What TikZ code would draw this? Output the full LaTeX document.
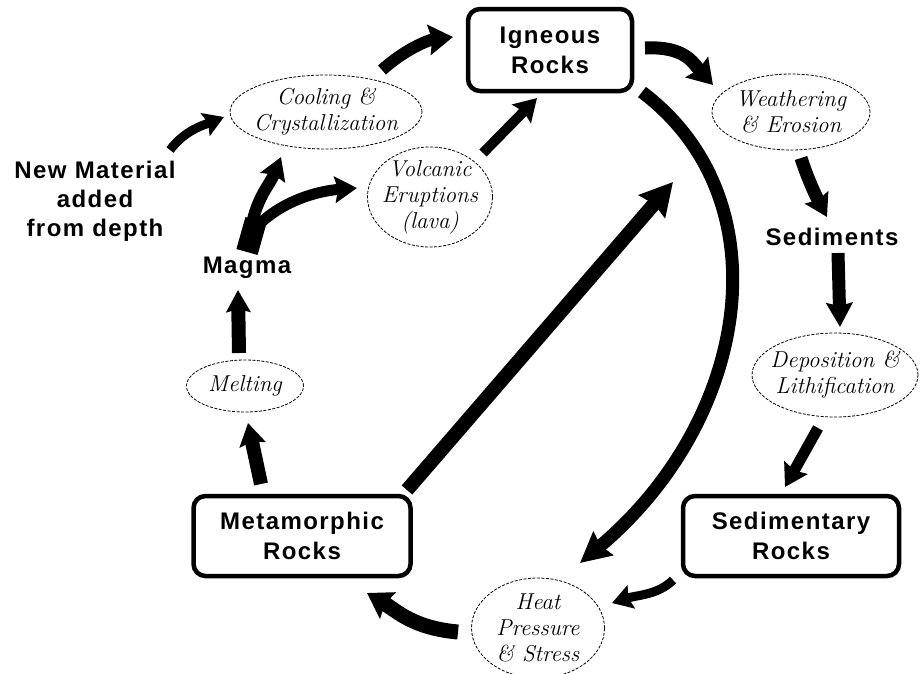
\documentclass[tikz,border=0pt]{standalone}
\usepackage{fontspec}
\newfontfamily\labfont{Liberation Sans}[LetterSpace=6]
\usetikzlibrary{arrows.meta,shapes.geometric,calc}
\begin{document}
\begin{tikzpicture}[x=1pt,y=-1pt,
  rock/.style={draw,line width=4.5pt,rounded corners=12pt,align=center,
    font=\labfont\bfseries\fontsize{24}{30}\selectfont,inner sep=0pt},
  ptext/.style={align=center,font=\itshape\fontsize{23}{26}\selectfont,inner sep=0pt},
  proc/.style={ellipse,draw,line width=0.8pt,dash pattern=on 3pt off 1.5pt,inner sep=0pt},
  lab/.style={align=center,font=\labfont\bfseries\fontsize{24}{29}\selectfont,inner sep=0pt},
  arr/.style n args={3}{draw,line width=#1pt,-{Stealth[length=#2pt,width=#3pt,inset=3pt]}}
]
\useasboundingbox (0,0) rectangle (920,673);

% rock boxes
\node[rock,minimum width=164pt,minimum height=82pt] (ign) at (550,50) {Igneous\\Rocks};
\node[rock,minimum width=217pt,minimum height=80pt] (meta) at (302,536) {Metamorphic\\Rocks};
\node[rock,minimum width=216pt,minimum height=80pt] (sedi) at (791,536) {Sedimentary\\Rocks};

% processes
\node[proc,minimum width=192pt,minimum height=74pt,label={[ptext]center:Cooling \&\\Crystallization}] (cool) at (326,112) {};
\node[proc,minimum width=125pt,minimum height=100pt,label={[ptext]center:Volcanic\\Eruptions\\(lava)}] (volc) at (430,197) {};
\node[proc,minimum width=158pt,minimum height=76pt,label={[ptext]center:Weathering\\\& Erosion}] (weath) at (791,112) {};
\node[proc,minimum width=166pt,minimum height=84pt,label={[ptext]center:Deposition \&\\Lithification}] (depo) at (835,375) {};
\node[proc,minimum width=133pt,minimum height=100pt,label={[ptext]center:Heat\\Pressure\\\& Stress}] (heat) at (538,628) {};
\node[proc,minimum width=117pt,minimum height=52pt,label={[ptext]center:Melting}] (melt) at (245,386) {};

% plain labels
\node[lab] (magma) at (247,268) {Magma};
\node[lab] (sedim) at (832,237) {Sediments};
\node[lab] (newmat) at (95,201) {New Material\\added\\from depth};

% arrows
\draw[arr={9}{20}{24}] ($(newmat)+(75,-51)$) .. controls +(15,-20) and +(-20,8) .. ($(cool)+(-102,5)$);
\draw[arr={12}{24}{30}] ($(cool)+(56,-42)$) .. controls +(22,-20) and +(-25,3) .. ($(ign)+(-97,-13)$);
\draw[arr={10}{22}{26}] ($(volc)+(53,-44)$) -- ($(ign)+(-13,48)$);
\draw[line width=22pt] ($(magma)+(0,-16)$) -- ($(magma)+(9,-48)$);
\draw[arr={12}{22}{26}] ($(magma)+(2,-22)$) .. controls +(3,-45) and +(-12,30) .. ($(cool)+(-45,45)$);
\draw[arr={11}{22}{26}] ($(magma)+(5,-36)$) .. controls +(25,-30) and +(-40,3) .. ($(volc)+(-73,-9)$);
\draw[arr={13}{24}{30}] ($(ign)+(95,-2)$) .. controls +(40,-2) and +(-20,-22) .. ($(weath)+(-78,-27)$);
\draw[arr={13}{22}{26}] ($(weath)+(10,46)$) .. controls +(8,25) and +(-8,-15) .. ($(sedim)+(-5,-20)$);
\draw[arr={13}{24}{26}] ($(sedim)+(6,16)$) -- ($(depo)+(5,-48)$);
\draw[arr={11}{22}{26}] ($(depo)+(-17,53)$) -- ($(sedi)+(-6,-49)$);
\draw[arr={9}{20}{24}] ($(sedi)+(-118,44)$) .. controls +(-15,15) and +(25,-8) .. ($(heat)+(74,-25)$);
\draw[arr={15}{24}{30}] ($(heat)+(-80,4)$) .. controls +(-45,-4) and +(30,18) .. ($(meta)+(65,57)$);
\draw[arr={14}{22}{26}] ($(meta)+(-41,-52)$) -- ($(melt)+(3,37)$);
\draw[arr={14}{22}{24}] ($(melt)+(-6,-33)$) -- ($(magma)+(-9,22)$);
\draw[arr={14}{32}{34}] ($(meta)+(105,-46)$) -- ($(ign)+(123,132)$);
\draw[arr={13}{30}{30}] ($(ign)+(92,42)$) .. controls +(143,108) and +(170,-143) .. ($(heat)+(42,-65)$);
\end{tikzpicture}
\end{document}
